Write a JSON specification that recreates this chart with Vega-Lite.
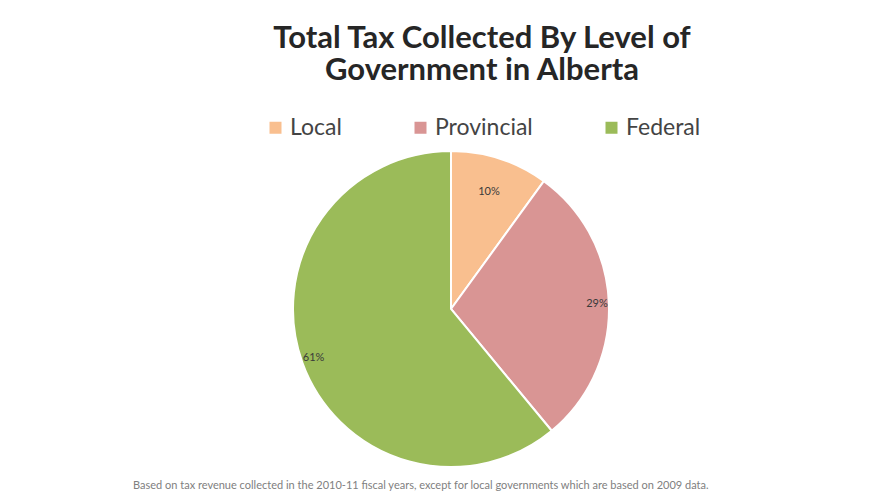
{
  "$schema": "https://vega.github.io/schema/vega-lite/v6.json",
  "background": "white",
  "padding": {"left": 133, "top": 23, "right": 10, "bottom": 8},
  "title": {
    "text": ["Total Tax Collected By Level of", "Government in Alberta"],
    "font": "Lato",
    "fontSize": 31,
    "fontWeight": "bold",
    "color": "#262626",
    "anchor": "middle",
    "frame": "group",
    "dx": 31,
    "lineHeight": 32,
    "offset": 29
  },
  "vconcat": [
    {
      "width": 316,
      "height": 316,
      "title": {
        "text": "Based on tax revenue collected in the 2010-11 fiscal years, except for local governments which are based on 2009 data.",
        "orient": "bottom",
        "anchor": "start",
        "frame": "group",
        "dx": -160,
        "font": "Lato",
        "fontSize": 11,
        "letterSpacing": 0.43,
        "fontWeight": "normal",
        "color": "#808080",
        "offset": 9
      },
      "data": {
        "values": [
          {"level": "Local", "value": 10, "label": "10%", "idx": 1},
          {"level": "Provincial", "value": 29, "label": "29%", "idx": 2},
          {"level": "Federal", "value": 61, "label": "61%", "idx": 3}
        ]
      },
      "encoding": {
        "theta": {"field": "value", "type": "quantitative", "stack": true},
        "order": {"field": "idx", "type": "quantitative"},
        "color": {
          "field": "level",
          "type": "nominal",
          "sort": ["Local", "Provincial", "Federal"],
          "scale": {"domain": ["Local", "Provincial", "Federal"], "range": ["#F9BF8F", "#D99594", "#9BBB59"]},
          "legend": {
            "orient": "none",
            "legendX": -29,
            "legendY": -35,
            "direction": "horizontal",
            "title": null,
            "symbolType": "square",
            "symbolSize": 144,
            "symbolStrokeWidth": 0,
            "labelFont": "Lato",
            "labelFontSize": 23,
            "labelColor": "#444444",
            "labelOffset": 3,
            "columnPadding": 67
          }
        }
      },
      "layer": [
        {"mark": {"type": "arc", "stroke": "white", "strokeWidth": 2}},
        {
          "mark": {"type": "text", "radius": {"expr": "datum.level === 'Local' ? 123 : 146"}, "font": "Lato", "fontSize": 11},
          "encoding": {"text": {"field": "label", "type": "nominal"}, "color": {"value": "#3a3a3a"}}
        }
      ]
    }
  ],
  "config": {"view": {"stroke": null}}
}
